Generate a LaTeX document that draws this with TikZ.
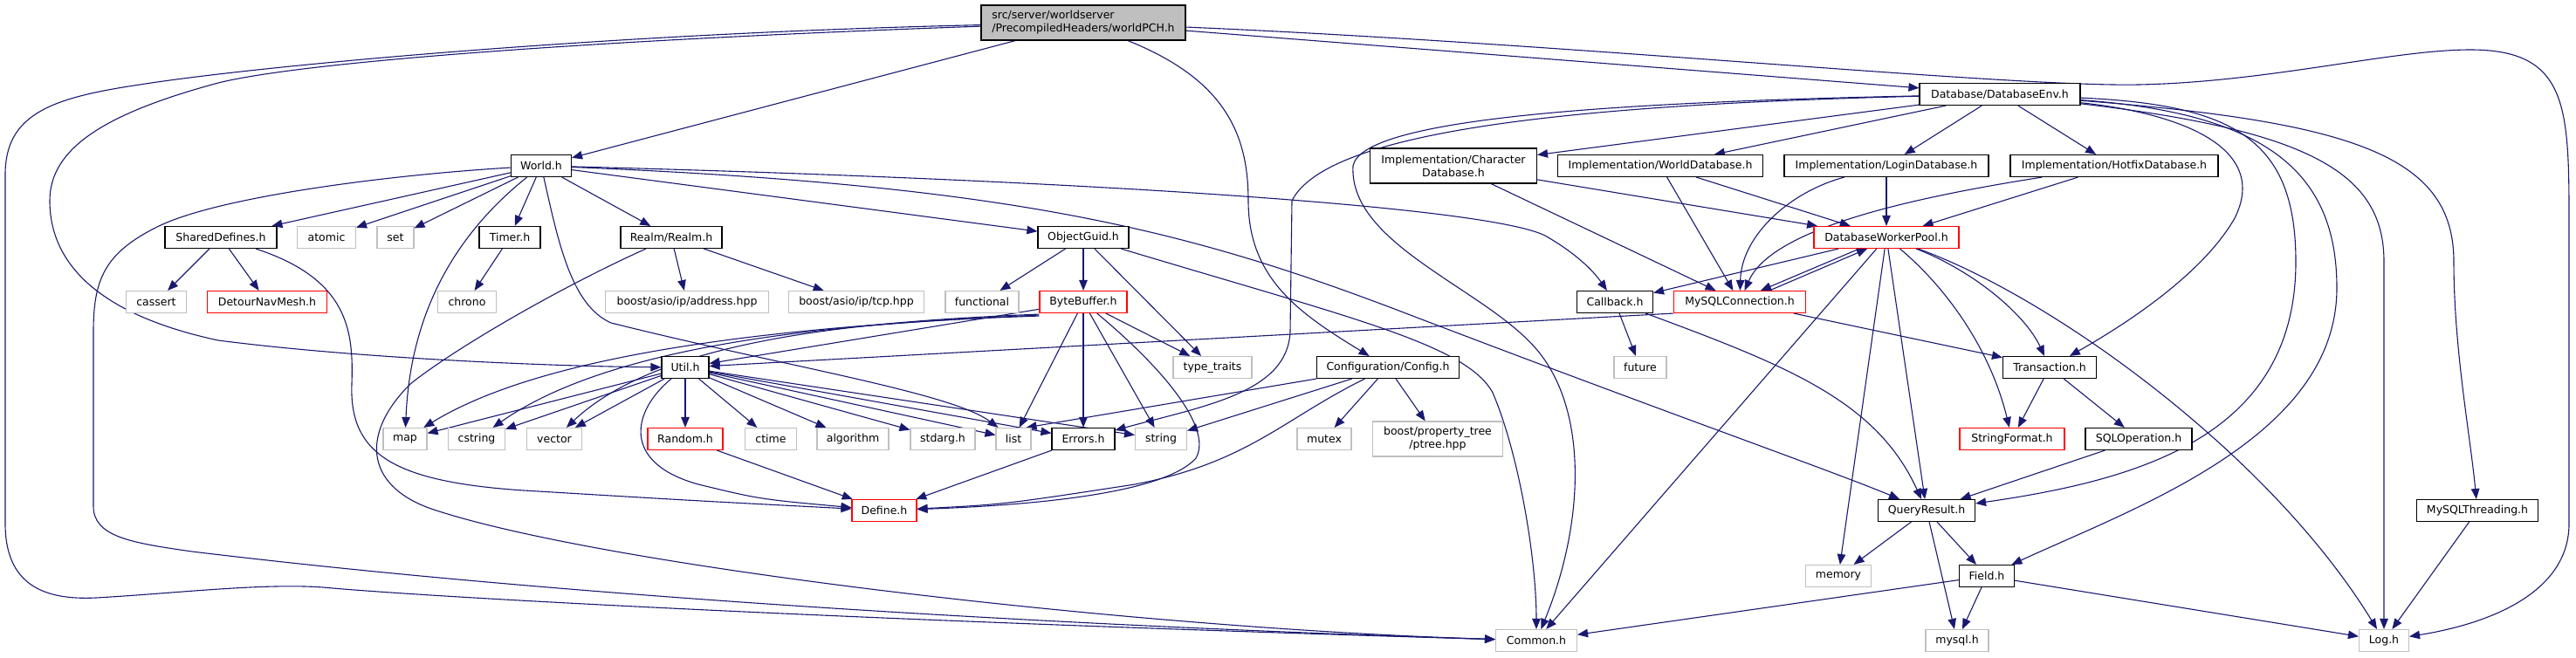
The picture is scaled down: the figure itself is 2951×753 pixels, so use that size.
\documentclass[tikz,border=0pt]{standalone}
\usepackage{fontspec}
\setmainfont{DejaVu Sans}
\usetikzlibrary{arrows.meta}
\pgfdeclarelayer{bg}
\pgfsetlayers{bg,main}
\definecolor{edgec}{HTML}{191970}
\definecolor{extc}{HTML}{BFBFBF}
\definecolor{redc}{HTML}{FF0000}
\begin{document}
\begin{tikzpicture}[x=1pt,y=-1pt,
  box/.style={draw=black,fill=white,line width=1.1pt,minimum height=25pt,inner sep=0pt,font=\fontsize{12.5}{15}\selectfont},
  ext/.style={box,draw=extc},
  rbox/.style={box,draw=redc},
  e/.style={draw=edgec,line width=1.1pt,-{Triangle[length=12pt,width=9.5pt]}}]
\useasboundingbox (0,0) rectangle (2951,753);
% nodes
\node[box,fill=extc,minimum width=234pt,minimum height=40pt,align=left] (root) at (1241,26) {src/server/worldserver\\/PrecompiledHeaders/worldPCH.h};
\node[box,minimum width=69pt] (World) at (620,190) {World.h};
\node[box,minimum width=184pt] (DBEnv) at (2291,108) {Database/DatabaseEnv.h};
\node[box,minimum width=191pt,minimum height=40pt,align=center] (CharDB) at (1665,190) {Implementation/Character\\Database.h};
\node[box,minimum width=235pt] (WorldDB) at (1902,190) {Implementation/WorldDatabase.h};
\node[box,minimum width=234pt] (LoginDB) at (2161,190) {Implementation/LoginDatabase.h};
\node[box,minimum width=238pt] (HotfixDB) at (2422,190) {Implementation/HotfixDatabase.h};
\node[box,minimum width=128pt] (Shared) at (253,272) {SharedDefines.h};
\node[ext,minimum width=67pt] (atomic) at (374,272) {atomic};
\node[ext,minimum width=42pt] (set) at (453,272) {set};
\node[box,minimum width=70pt] (Timer) at (584,272) {Timer.h};
\node[box,minimum width=116pt] (Realm) at (769,272) {Realm/Realm.h};
\node[box,minimum width=104pt] (OGuid) at (1241,272) {ObjectGuid.h};
\node[rbox,minimum width=166pt] (DWP) at (2161,272) {DatabaseWorkerPool.h};
\node[ext,minimum width=69pt] (cassert) at (179,346) {cassert};
\node[rbox,minimum width=137pt] (Detour) at (306,346) {DetourNavMesh.h};
\node[ext,minimum width=67pt] (chrono) at (535,346) {chrono};
\node[ext,minimum width=187pt] (addr) at (787,346) {boost/asio/ip/address.hpp};
\node[ext,minimum width=155pt] (tcp) at (981,346) {boost/asio/ip/tcp.hpp};
\node[ext,minimum width=84pt] (functional) at (1125,346) {functional};
\node[rbox,minimum width=100pt] (BB) at (1241,346) {ByteBuffer.h};
\node[box,minimum width=87pt] (Callback) at (1850,346) {Callback.h};
\node[rbox,minimum width=151pt] (MySQLConn) at (1993,346) {MySQLConnection.h};
\node[box,minimum width=54pt] (Util) at (785,421) {Util.h};
\node[ext,minimum width=90pt] (traits) at (1389,421) {type\_traits};
\node[box,minimum width=163pt] (Config) at (1590,421) {Configuration/Config.h};
\node[ext,minimum width=60pt] (future) at (1879,421) {future};
\node[box,minimum width=107pt] (Trans) at (2348,421) {Transaction.h};
\node[ext,minimum width=50pt] (map) at (464,503) {map};
\node[ext,minimum width=65pt] (cstring) at (546,503) {cstring};
\node[ext,minimum width=63pt] (vector) at (635,503) {vector};
\node[rbox,minimum width=86pt] (Random) at (785,503) {Random.h};
\node[ext,minimum width=59pt] (ctime) at (883,503) {ctime};
\node[ext,minimum width=82pt] (algorithm) at (977,503) {algorithm};
\node[ext,minimum width=74pt] (stdarg) at (1080,503) {stdarg.h};
\node[ext,minimum width=40pt] (list) at (1161,503) {list};
\node[box,minimum width=72pt] (Errors) at (1241,503) {Errors.h};
\node[ext,minimum width=59pt] (string) at (1330,503) {string};
\node[ext,minimum width=62pt] (mutex) at (1517,503) {mutex};
\node[ext,minimum width=149pt,minimum height=40pt,align=center] (ptree) at (1647,503) {boost/property\_tree\\/ptree.hpp};
\node[rbox,minimum width=120pt] (StrFmt) at (2305,503) {StringFormat.h};
\node[box,minimum width=122pt] (SQLOp) at (2450,503) {SQLOperation.h};
\node[rbox,minimum width=74pt] (Define) at (1013,585) {Define.h};
\node[box,minimum width=111pt] (QR) at (2207,585) {QueryResult.h};
\node[box,minimum width=139pt] (MySQLThr) at (2838,585) {MySQLThreading.h};
\node[ext,minimum width=75pt] (memory) at (2106,660) {memory};
\node[box,minimum width=63pt] (Field) at (2276,660) {Field.h};
\node[ext,minimum width=93pt] (Common) at (1760,734) {Common.h};
\node[ext,minimum width=72pt] (mysql) at (2242,734) {mysql.h};
\node[ext,minimum width=57pt] (Log) at (2731,734) {Log.h};
% edges
\begin{pgfonlayer}{bg}
% root
\draw[e] (root) -- (World);
\draw[e] (root) -- (DBEnv);
\draw[e] (root) .. controls (1400,90) and (1430,150) .. (1430,230) .. controls (1430,320) and (1490,360) .. (Config);
\draw[e] (root) .. controls (1800,50) and (2300,100) .. (2450,97) .. controls (2600,94) and (2740,57) .. (2830,57) .. controls (2940,57) and (2943,120) .. (2943,250) -- (2943,600) .. controls (2943,680) and (2850,715) .. (Log);
\draw[e] (root) .. controls (700,45) and (350,70) .. (250,95) .. controls (120,130) and (57,170) .. (57,230) .. controls (57,300) and (110,360) .. (250,390) .. controls (420,412) and (650,420) .. (Util);
\draw[e] (root) .. controls (700,38) and (300,75) .. (160,97) .. controls (60,112) and (6,130) .. (6,200) -- (6,600) .. controls (6,670) and (50,688) .. (110,685) .. controls (200,680) and (300,668) .. (370,673) .. controls (500,685) and (1000,712) .. (Common);
% World
\draw[e] (World) -- (Shared);
\draw[e] (World) -- (atomic);
\draw[e] (World) -- (set);
\draw[e] (World) -- (Timer);
\draw[e] (World) -- (Realm);
\draw[e] (World) -- (OGuid);
\draw[e] (World) .. controls (520,270) and (470,360) .. (map);
\draw[e] (World) .. controls (640,280) and (655,350) .. (700,370) .. controls (900,420) and (1090,450) .. (list);
\draw[e] (World) .. controls (1200,205) and (1700,235) .. (1770,270) .. controls (1805,290) and (1825,310) .. (Callback);
\draw[e] (World) .. controls (1150,212) and (1350,260) .. (1600,355) .. controls (1900,470) and (2100,540) .. (QR);
\draw[e] (World) .. controls (450,200) and (250,225) .. (180,260) .. controls (120,290) and (107,320) .. (107,380) -- (107,580) .. controls (107,615) and (150,622) .. (220,632) .. controls (700,690) and (1300,720) .. (Common);
% SharedDefines, Timer, Realm
\draw[e] (Shared) -- (cassert);
\draw[e] (Shared) -- (Detour);
\draw[e] (Shared) .. controls (400,320) and (405,380) .. (403,440) .. controls (400,520) and (450,552) .. (600,562) .. controls (800,574) .. (Define);
\draw[e] (Timer) -- (chrono);
\draw[e] (Realm) -- (addr);
\draw[e] (Realm) -- (tcp);
\draw[e] (Realm) .. controls (640,330) and (520,400) .. (470,440) .. controls (410,500) and (420,560) .. (500,585) .. controls (700,650) and (1300,720) .. (Common);
% ObjectGuid
\draw[e] (OGuid) -- (functional);
\draw[e] (OGuid) -- (BB);
\draw[e] (OGuid) -- (traits);
\draw[e] (OGuid) .. controls (1550,365) and (1680,395) .. (1710,450) .. controls (1740,520) and (1760,640) .. (Common);
% ByteBuffer
\draw[e] (BB) -- (Util);
\draw[e] ([yshift=-2pt]BB.south west) .. controls (950,372) and (640,395) .. (map);
\draw[e] ([yshift=-3pt]BB.south west) .. controls (950,370) and (700,395) .. (cstring);
\draw[e] ([yshift=-1pt]BB.south west) .. controls (1000,368) and (760,385) .. (vector);
\draw[e] (BB) -- (list);
\draw[e] (BB) -- (Errors);
\draw[e] (BB) -- (string);
\draw[e] (BB) -- (traits);
\draw[e] (BB) .. controls (1330,420) and (1390,490) .. (1370,525) .. controls (1330,570) and (1150,580) .. (Define);
% Util
\draw[e] (Util) -- (map);
\draw[e] (Util) -- (cstring);
\draw[e] (Util) -- (vector);
\draw[e] (Util) -- (Random);
\draw[e] (Util) -- (ctime);
\draw[e] (Util) -- (algorithm);
\draw[e] (Util) -- (stdarg);
\draw[e] (Util) -- (list);
\draw[e] (Util) -- (Errors);
\draw[e] (Util) -- (string);
\draw[e] (Util) .. controls (725,470) and (710,530) .. (800,555) .. controls (870,572) .. (Define);
\draw[e] (Random) -- (Define);
\draw[e] (Errors) -- (Define);
% Config
\draw[e] (Config.south west) -- ([xshift=-6pt]list.north east);
\draw[e] (Config) -- (string);
\draw[e] (Config) -- (mutex);
\draw[e] (Config) -- (ptree);
\draw[e] (Config) .. controls (1470,480) and (1430,530) .. (1300,555) .. controls (1150,578) .. (Define);
% DatabaseEnv
\draw[e] (DBEnv) -- (CharDB);
\draw[e] (DBEnv) -- (WorldDB);
\draw[e] (DBEnv) -- (LoginDB);
\draw[e] (DBEnv) -- (HotfixDB);
\draw[e] (DBEnv) .. controls (1800,120) and (1520,150) .. (1480,230) -- (1478,380) .. controls (1475,450) and (1380,465) .. (Errors);
\draw[e] (DBEnv) .. controls (1800,118) and (1560,140) .. (1550,190) .. controls (1545,280) and (1700,330) .. (1760,400) .. controls (1820,470) and (1815,600) .. (Common);
\draw[e] (DBEnv) .. controls (2500,130) and (2600,170) .. (2560,250) .. controls (2520,320) and (2420,380) .. (Trans);
\draw[e] (DBEnv) .. controls (2560,120) and (2630,160) .. (2630,300) .. controls (2630,500) and (2450,550) .. (QR);
\draw[e] (DBEnv) .. controls (2600,130) and (2677,200) .. (2677,330) .. controls (2677,500) and (2450,580) .. (Field);
\draw[e] (DBEnv) .. controls (2650,150) and (2731,200) .. (2731,300) -- (Log);
\draw[e] (DBEnv) .. controls (2700,140) and (2811,180) .. (2811,300) .. controls (2811,400) and (2830,500) .. (MySQLThr);
% Implementation DBs
\draw[e] (CharDB) -- (DWP);
\draw[e] (CharDB) -- (MySQLConn);
\draw[e] (WorldDB) -- (DWP);
\draw[e] (WorldDB) -- (MySQLConn);
\draw[e] (LoginDB) -- (DWP);
\draw[e] (LoginDB) .. controls (2050,220) and (1995,270) .. (MySQLConn);
\draw[e] (HotfixDB) -- (DWP);
\draw[e] (HotfixDB) .. controls (2200,225) and (2030,260) .. (MySQLConn);
% DatabaseWorkerPool
\draw[e] (DWP) -- (Callback);
\draw[e] ([xshift=-31pt]DWP.south) -- ([xshift=24pt]MySQLConn.north);
\draw[e] ([xshift=34pt]MySQLConn.north) -- ([xshift=-22pt]DWP.south);
\draw[e] (DWP) -- (Common);
\draw[e] (DWP) -- (memory);
\draw[e] (DWP) -- (QR);
\draw[e] (DWP) .. controls (2230,330) and (2280,400) .. (StrFmt);
\draw[e] (DWP) .. controls (2260,310) and (2320,360) .. (Trans);
\draw[e] (DWP) .. controls (2350,340) and (2600,520) .. (Log);
% MySQLConnection, Callback
\draw[e] (MySQLConn.south west) -- (Util);
\draw[e] (MySQLConn) -- (Trans);
\draw[e] (Callback) -- (future);
\draw[e] (Callback) .. controls (2050,420) and (2150,460) .. (QR);
% lower
\draw[e] (Trans) -- (StrFmt);
\draw[e] (Trans) -- (SQLOp);
\draw[e] (SQLOp) -- (QR);
\draw[e] (QR) -- (memory);
\draw[e] (QR) -- (Field);
\draw[e] (QR) -- (mysql);
\draw[e] (Field) -- (Common);
\draw[e] (Field) -- (mysql);
\draw[e] (Field) -- (Log);
\draw[e] (MySQLThr) -- (Log);
\end{pgfonlayer}
\end{tikzpicture}
\end{document}
